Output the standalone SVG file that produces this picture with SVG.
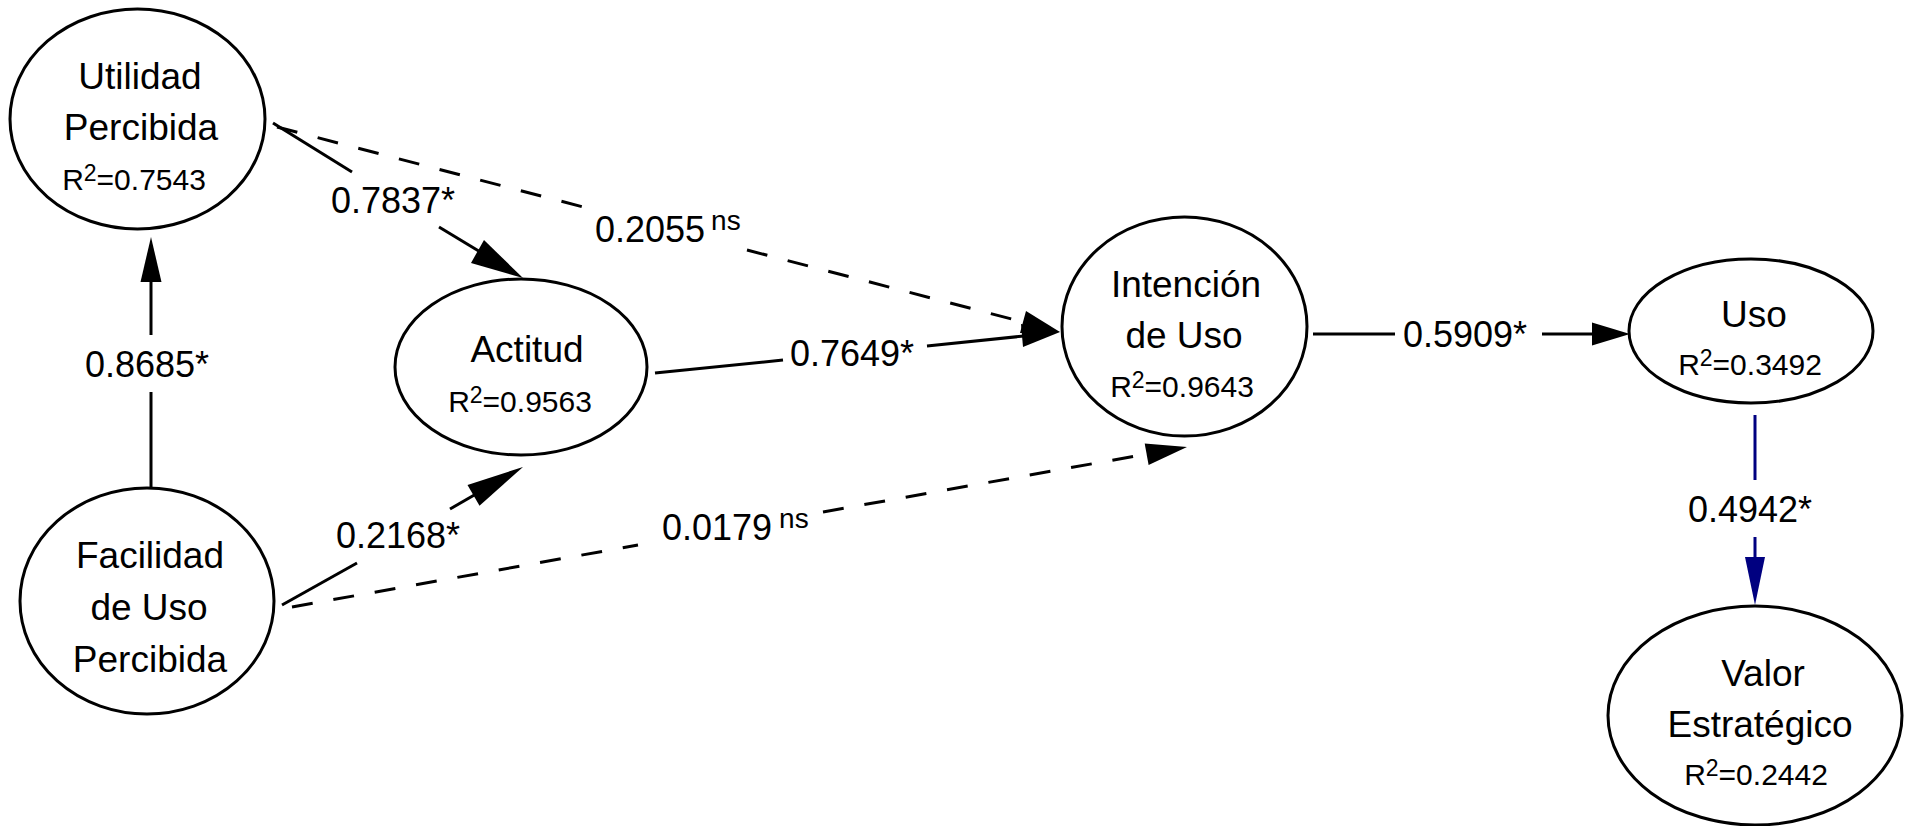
<svg xmlns="http://www.w3.org/2000/svg" width="1905" height="826" viewBox="0 0 1905 826">
<style>
.n{fill:#fff;stroke:#000;stroke-width:3}
.t{font-family:"Liberation Sans",Arial,sans-serif;font-size:37px;text-anchor:middle;fill:#000}
.r{font-size:30px}
.s{font-size:23px}
.l{font-family:"Liberation Sans",Arial,sans-serif;font-size:36px;fill:#000}
.m{text-anchor:middle}
.ns{font-size:28px}
.e{stroke:#000;stroke-width:3;fill:none}
.d{stroke-dasharray:21 21}
.a{fill:#000}
.b{stroke:#000080}
.ab{fill:#000080}
</style>
<rect width="1905" height="826" fill="#fff"/>
<g id="connectors">
  <!-- Utilidad -> Actitud 0.7837* -->
  <line class="e" x1="273" y1="123" x2="352" y2="172"/>
  <line class="e" x1="439" y1="227" x2="482" y2="253"/>
  <polygon class="a" points="523,278 471,263 484,240"/>
  <text class="l m" x="393" y="213">0.7837*</text>
  <!-- Utilidad -> Intencion 0.2055 ns -->
  <line class="e d" x1="277" y1="127" x2="587" y2="208"/>
  <line class="e d" x1="747" y1="250" x2="1023" y2="322"/>
  <polygon class="a" points="1060,332 1020,333 1026,311"/>
  <text class="l" x="595" y="242">0.2055<tspan class="ns" dx="6" dy="-12">ns</tspan></text>
  <!-- Actitud -> Intencion 0.7649* -->
  <line class="e" x1="655" y1="373" x2="783" y2="360"/>
  <line class="e" x1="927" y1="346" x2="1024" y2="336"/>
  <polygon class="a" points="1060,332 1023,347 1021,324"/>
  <text class="l m" x="852" y="366">0.7649*</text>
  <!-- Facilidad -> Utilidad 0.8685* -->
  <line class="e" x1="151" y1="488" x2="151" y2="392"/>
  <line class="e" x1="151" y1="335" x2="151" y2="280"/>
  <polygon class="a" points="151,237 140.5,282 161.5,282"/>
  <text class="l m" x="147" y="377">0.8685*</text>
  <!-- Facilidad -> Actitud 0.2168* -->
  <line class="e" x1="282" y1="605" x2="357" y2="563"/>
  <line class="e" x1="450" y1="509" x2="476" y2="494"/>
  <polygon class="a" points="523,467 479.5,505.7 467.5,484.9"/>
  <text class="l m" x="398" y="548">0.2168*</text>
  <!-- Facilidad -> Intencion 0.0179 ns -->
  <line class="e d" x1="292" y1="607" x2="638" y2="545"/>
  <line class="e d" x1="823" y1="512" x2="1147" y2="454"/>
  <polygon class="a" points="1187,447 1148.6,465 1144.7,443.4"/>
  <text class="l" x="662" y="540">0.0179<tspan class="ns" dx="7" dy="-12">ns</tspan></text>
  <!-- Intencion -> Uso 0.5909* -->
  <line class="e" x1="1313" y1="334" x2="1395" y2="334"/>
  <line class="e" x1="1542" y1="334" x2="1594" y2="334"/>
  <polygon class="a" points="1630,334 1592,322.5 1592,345.5"/>
  <text class="l m" x="1465" y="347">0.5909*</text>
  <!-- Uso -> Valor 0.4942* -->
  <line class="e b" x1="1755" y1="415" x2="1755" y2="480"/>
  <line class="e b" x1="1755" y1="537" x2="1755" y2="560"/>
  <polygon class="ab" points="1755,605 1745,557 1765,557"/>
  <text class="l m" x="1750" y="522">0.4942*</text>
</g>
<g id="utilidad">
  <ellipse class="n" cx="137.5" cy="119" rx="127.5" ry="110"/>
  <text class="t" x="140" y="89">Utilidad</text>
  <text class="t" x="141" y="140">Percibida</text>
  <text class="t r" x="134" y="190">R<tspan class="s" dy="-9">2</tspan><tspan dy="9">=0.7543</tspan></text>
</g>
<g id="facilidad">
  <ellipse class="n" cx="147" cy="601" rx="127" ry="113"/>
  <text class="t" x="150" y="568">Facilidad</text>
  <text class="t" x="149" y="620">de Uso</text>
  <text class="t" x="150" y="672">Percibida</text>
</g>
<g id="actitud">
  <ellipse class="n" cx="521" cy="367" rx="126" ry="88"/>
  <text class="t" x="527" y="362">Actitud</text>
  <text class="t r" x="520" y="412">R<tspan class="s" dy="-9">2</tspan><tspan dy="9">=0.9563</tspan></text>
</g>
<g id="intencion">
  <ellipse class="n" cx="1184.5" cy="326.5" rx="122.5" ry="109.5"/>
  <text class="t" x="1186" y="297">Intención</text>
  <text class="t" x="1184" y="348">de Uso</text>
  <text class="t r" x="1182" y="397">R<tspan class="s" dy="-9">2</tspan><tspan dy="9">=0.9643</tspan></text>
</g>
<g id="uso">
  <ellipse class="n" cx="1751" cy="331" rx="122" ry="72"/>
  <text class="t" x="1754" y="327">Uso</text>
  <text class="t r" x="1750" y="375">R<tspan class="s" dy="-9">2</tspan><tspan dy="9">=0.3492</tspan></text>
</g>
<g id="valor">
  <ellipse class="n" cx="1755" cy="715.5" rx="147" ry="109.5"/>
  <text class="t" x="1763" y="686">Valor</text>
  <text class="t" x="1760" y="737">Estratégico</text>
  <text class="t r" x="1756" y="785">R<tspan class="s" dy="-9">2</tspan><tspan dy="9">=0.2442</tspan></text>
</g>
</svg>
